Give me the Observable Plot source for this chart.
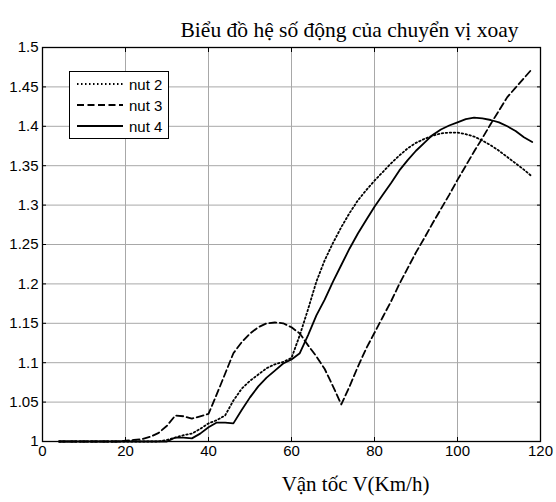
<!DOCTYPE html>
<html>
<head>
<meta charset="utf-8">
<script src="https://cdn.jsdelivr.net/npm/d3@7"></script>
<script src="https://cdn.jsdelivr.net/npm/@observablehq/plot@0.6"></script>
<style>
  body { margin: 0; background: #fff; }
  #wrap { position: relative; width: 556px; height: 502px; }
  #legend { position: absolute; left: 69px; top: 71px; width: 98px; height: 66px; border: 1px solid #000; background: #fff;
            font-family: "Liberation Sans", Arial, sans-serif; font-size: 15px; }
  .row { position: absolute; left: 0; height: 16px; display: flex; align-items: center; white-space: nowrap; }
  .row svg { margin-left: 7px; margin-right: 6px; }
</style>
</head>
<body>
<div id="wrap"></div>
<script>
const title = "Biểu đồ hệ số động của chuyển vị xoay";
const xLabel = "Vận tốc V(Km/h)";
const seriesNames = ["nut 2", "nut 3", "nut 4"];
const xTicks = [0, 20, 40, 60, 80, 100, 120];
const yTicks = [1, 1.05, 1.1, 1.15, 1.2, 1.25, 1.3, 1.35, 1.4, 1.45, 1.5];

const speeds = [4,6,8,10,12,14,16,18,20,22,24,26,28,30,32,34,36,38,40,42,44,46,48,50,52,54,56,58,60,62,64,66,68,70,72,74,76,78,80,82,84,86,88,90,92,94,96,98,100,102,104,106,108,110,112,114,116,118];

const nut2 = [1,1,1,1,1,1,1,1,1,1,1,1,1,1.002,1.005,1.008,1.01,1.016,1.023,1.027,1.033,1.052,1.067,1.077,1.085,1.093,1.098,1.101,1.106,1.135,1.168,1.203,1.23,1.252,1.272,1.29,1.306,1.319,1.331,1.342,1.353,1.363,1.372,1.379,1.384,1.388,1.391,1.392,1.392,1.39,1.387,1.382,1.376,1.369,1.361,1.353,1.345,1.336];

const nut3 = [1,1,1,1,1,1,1,1,1.001,1.002,1.003,1.006,1.011,1.02,1.033,1.032,1.029,1.032,1.035,1.06,1.086,1.112,1.126,1.137,1.145,1.15,1.151,1.15,1.145,1.137,1.122,1.108,1.092,1.07,1.047,1.07,1.095,1.118,1.138,1.158,1.178,1.2,1.22,1.24,1.258,1.277,1.295,1.313,1.332,1.35,1.368,1.385,1.403,1.42,1.437,1.449,1.461,1.473];

const nut4 = [1,1,1,1,1,1,1,1,1,1,1,1,1,1,1.005,1.005,1.004,1.01,1.018,1.024,1.024,1.023,1.04,1.056,1.07,1.081,1.09,1.099,1.104,1.112,1.135,1.16,1.18,1.203,1.224,1.245,1.264,1.281,1.298,1.313,1.328,1.344,1.357,1.369,1.379,1.389,1.396,1.401,1.405,1.409,1.411,1.41,1.408,1.405,1.4,1.394,1.386,1.38];

const styles = {
  "nut 2": {dash: "1.5 2.5"},
  "nut 3": {dash: "7 3.5"},
  "nut 4": {dash: null}
};
const values = {"nut 2": nut2, "nut 3": nut3, "nut 4": nut4};

const lines = seriesNames.map(name =>
  Plot.line(speeds.map((v, i) => ({v, k: values[name][i]})), {
    x: "v", y: "k", stroke: "black", strokeWidth: 1.8,
    strokeDasharray: styles[name].dash, strokeLinejoin: "round"
  })
);

const fmt = d => String(+d.toFixed(2));
const font = "Liberation Sans, Arial, sans-serif";
const serif = "Liberation Serif, Times New Roman, serif";

const chart = Plot.plot({
  width: 556,
  height: 502,
  marginTop: 47,
  marginBottom: 61,
  marginLeft: 42,
  marginRight: 16,
  style: {fontFamily: font, fontSize: "15px", color: "black", background: "white"},
  x: {domain: [0, 120]},
  y: {domain: [1, 1.5]},
  marks: [
    Plot.gridX(xTicks, {stroke: "#a8a8a8", strokeOpacity: 1}),
    Plot.gridY(yTicks, {stroke: "#a8a8a8", strokeOpacity: 1}),
    ...lines,
    Plot.axisX(xTicks, {anchor: "bottom", tickSize: 0, tickPadding: 4, tickFormat: fmt, label: null, fontSize: 15}),
    Plot.axisX(xTicks, {anchor: "bottom", tickSize: -4, tickFormat: () => "", label: null}),
    Plot.axisX(xTicks, {anchor: "top", tickSize: -4, tickFormat: () => "", label: null}),
    Plot.axisY(yTicks, {anchor: "left", tickSize: 0, tickPadding: 4, tickFormat: fmt, label: null, fontSize: 15}),
    Plot.axisY(yTicks, {anchor: "left", tickSize: -4, tickFormat: () => "", label: null}),
    Plot.axisY(yTicks, {anchor: "right", tickSize: -4, tickFormat: () => "", label: null}),
    Plot.frame({stroke: "black", strokeWidth: 1.3}),
    Plot.text([title], {frameAnchor: "top", dx: 58, dy: -26, fontFamily: serif, fontSize: 21.5, fill: "black"}),
    Plot.text([xLabel], {frameAnchor: "bottom", dx: 64, dy: 49, fontFamily: serif, fontSize: 21, fill: "black"})
  ]
});

const wrap = document.getElementById("wrap");
wrap.appendChild(chart);

const legend = document.createElement("div");
legend.id = "legend";
seriesNames.forEach((name, i) => {
  const row = document.createElement("div");
  row.className = "row";
  row.style.top = (4 + i * 21) + "px";
  const dash = styles[name].dash ? `stroke-dasharray="${styles[name].dash}"` : "";
  row.innerHTML = `<svg width="46" height="10"><line x1="0" y1="5" x2="46" y2="5" stroke="black" stroke-width="1.8" ${dash}/></svg><span>${name}</span>`;
  legend.appendChild(row);
});
wrap.appendChild(legend);
</script>
</body>
</html>
